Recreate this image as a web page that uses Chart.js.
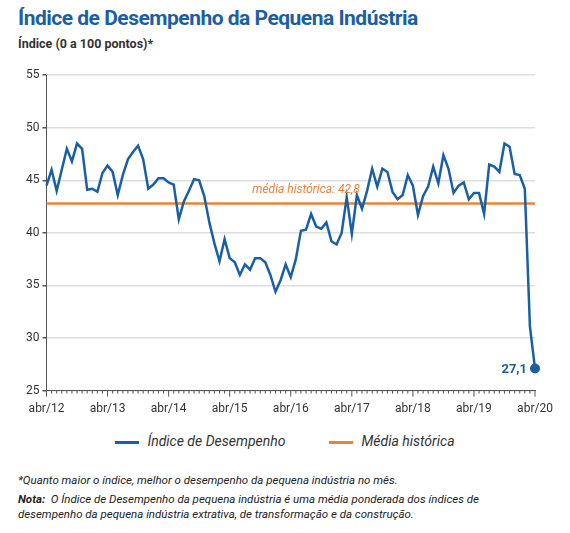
<!DOCTYPE html>
<html><head><meta charset="utf-8">
<script src="https://cdn.jsdelivr.net/npm/chart.js@4"></script>
<style>
body{margin:0;background:#fff;font-family:Roboto,sans-serif;width:570px;height:533px;overflow:hidden;position:relative}
#t{position:absolute;left:18px;top:6px;font-size:21px;font-weight:bold;color:#1b5fa3;letter-spacing:-0.5px}
#s{position:absolute;left:18px;top:36px;font-size:12.5px;font-weight:bold;color:#333}
#c{position:absolute;left:0;top:65px;width:570px;height:354px}
#lg{position:absolute;top:433px;left:0;width:570px;text-align:center;font-size:14px;font-style:italic;color:#333}
#lg span.k{display:inline-block;width:24px;height:3px;vertical-align:middle;margin-right:8px}
.n{position:absolute;left:18px;font-size:11.5px;font-style:italic;color:#222;width:505px;line-height:15px}
</style></head><body>
<div id="t">Índice de Desempenho da Pequena Indústria</div>
<div id="s">Índice (0 a 100 pontos)*</div>
<div id="c"><canvas id="cv"></canvas></div>
<div id="lg"><span class="k" style="background:#1b5fa3"></span>Índice de Desempenho<span style="display:inline-block;width:44px"></span><span class="k" style="background:#e8843a"></span>Média histórica</div>
<div class="n" style="top:473px">*Quanto maior o índice, melhor o desempenho da pequena indústria no mês.</div>
<div class="n" style="top:492px"><b>Nota:</b>&nbsp; O Índice de Desempenho da pequena indústria é uma média ponderada dos índices de desempenho da pequena indústria extrativa, de transformação e da construção.</div>
<script>
const months=['jan','fev','mar','abr','mai','jun','jul','ago','set','out','nov','dez'];
const labels=[];
for(let i=0;i<97;i++){const m=(3+i)%12,y=12+Math.floor((3+i)/12);labels.push(months[m]+'/'+y);}
const indice=[44.5,46,44,46,48,46.8,48.5,48,44.1,
44.2,43.9,45.7,46.4,45.8,43.6,45.5,47,47.7,48.3,47,44.2,
44.6,45.2,45.2,44.8,44.6,41.3,43,44,45.1,45,43.5,41,
39,37.3,39.4,37.6,37.2,36,37,36.5,37.6,37.6,37.2,36,
34.4,35.5,37,35.8,37.5,40.2,40.3,41.8,40.6,40.4,41,39.2,
38.9,40,43.4,39.9,43.6,42.3,44,46.1,44.4,46.1,45.8,43.9,
43.2,43.6,45.5,44.5,41.7,43.5,44.4,46.3,44.7,47.4,46.1,43.8,
44.5,44.8,43.2,43.8,43.8,41.8,46.5,46.3,45.8,48.5,48.2,45.6,
45.5,44.2,31.1,27.1];
const media=42.8;
const mediaArr=indice.map(()=>media);
const labelsPlugin={id:'lp',afterDatasetsDraw(ch){const c=ch.ctx,x=ch.scales.x,y=ch.scales.y;
c.save();c.font='italic 12px Roboto';c.fillStyle='#e8843a';c.textAlign='center';
c.fillText('média histórica: 42,8',x.getPixelForValue(51),y.getPixelForValue(media)-10);
const lx=x.getPixelForValue(96),ly=y.getPixelForValue(27.1);
c.font='bold 13px Roboto';c.fillStyle='#1b5fa3';c.textAlign='right';c.fillText('27,1',lx-8,ly+4);
c.beginPath();c.arc(lx,ly,5,0,Math.PI*2);c.fill();
c.strokeStyle='#555';c.lineWidth=1;
for(let i=0;i<97;i++){const px=x.getPixelForValue(i);c.beginPath();c.moveTo(px,y.bottom);c.lineTo(px,y.bottom+(i%12==0?6:3));c.stroke();}
c.restore();}};
new Chart(document.getElementById('cv'),{type:'line',
data:{labels,datasets:[
{data:mediaArr,borderColor:'#e8843a',borderWidth:2.5,pointRadius:0,order:2},
{data:indice,borderColor:'#1b5fa3',borderWidth:2.5,pointRadius:0,tension:0,order:1}]},
options:{responsive:true,maintainAspectRatio:false,animation:false,
layout:{padding:{left:23,right:35,top:9}},
plugins:{legend:{display:false},tooltip:{enabled:false}},
scales:{x:{grid:{display:false},border:{color:'#555'},ticks:{autoSkip:false,maxRotation:0,color:'#333',font:{size:12,family:'Roboto'},
callback:(v,i)=>i%12==0?labels[i]:''}},
y:{min:25,max:55,grid:{color:'#ddd',lineWidth:1.5,drawTicks:true,tickColor:'#555',tickLength:4},border:{color:'#555'},
ticks:{stepSize:5,color:'#333',font:{size:12,family:'Roboto'}}}}},
plugins:[labelsPlugin]});
</script></body></html>
